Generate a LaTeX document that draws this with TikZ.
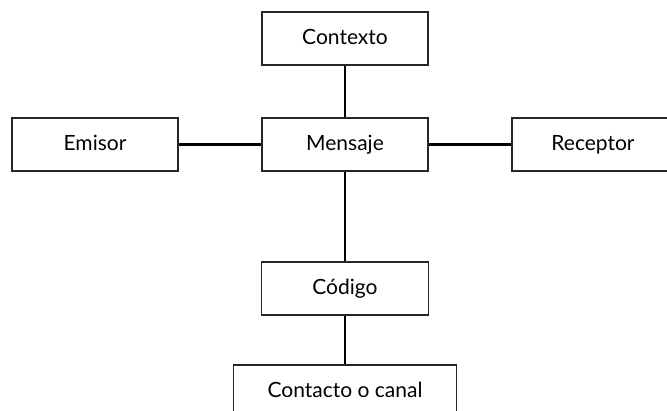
\documentclass[tikz,border=0pt]{standalone}
\usepackage{fontspec}
\setmainfont{Lato}
\usepackage{xcolor}
\usepackage{tikz}

\begin{document}
\begin{tikzpicture}[x=1pt,y=-1pt]
			\tikzstyle{caja}=[draw=black!85, line width=1.2pt, minimum height=53pt, inner sep=0pt, text height=15pt, text depth=4pt, font=\fontsize{21}{25}\selectfont]
			\tikzset{edge/.style = {-, line width=2.4pt}}
			\useasboundingbox (0,0) rectangle (667,410);
			
			\node[caja, minimum width=166pt](contexto) at (345,38.5) {Contexto};
			\node[caja, minimum width=166pt](emisor) at (95,144.5) {Emisor};
			\node[caja, minimum width=166pt](mensaje) at (345,144.5) {Mensaje};
			\node[caja, minimum width=162pt](receptor) at (593,144.5) {Receptor};
			\node[caja, minimum width=167pt](codigo) at (345,288.5) {Código};
			\node[caja, minimum width=223pt](canal) at (345,391.5) {Contacto o canal};
			
			\draw[edge](contexto) to (mensaje);
			\draw[edge](emisor) to (mensaje);
			\draw[edge](mensaje) to (receptor);
			\draw[edge](mensaje) to (codigo);
			\draw[edge](codigo) to (canal);
			
			\end{tikzpicture}
\end{document}
